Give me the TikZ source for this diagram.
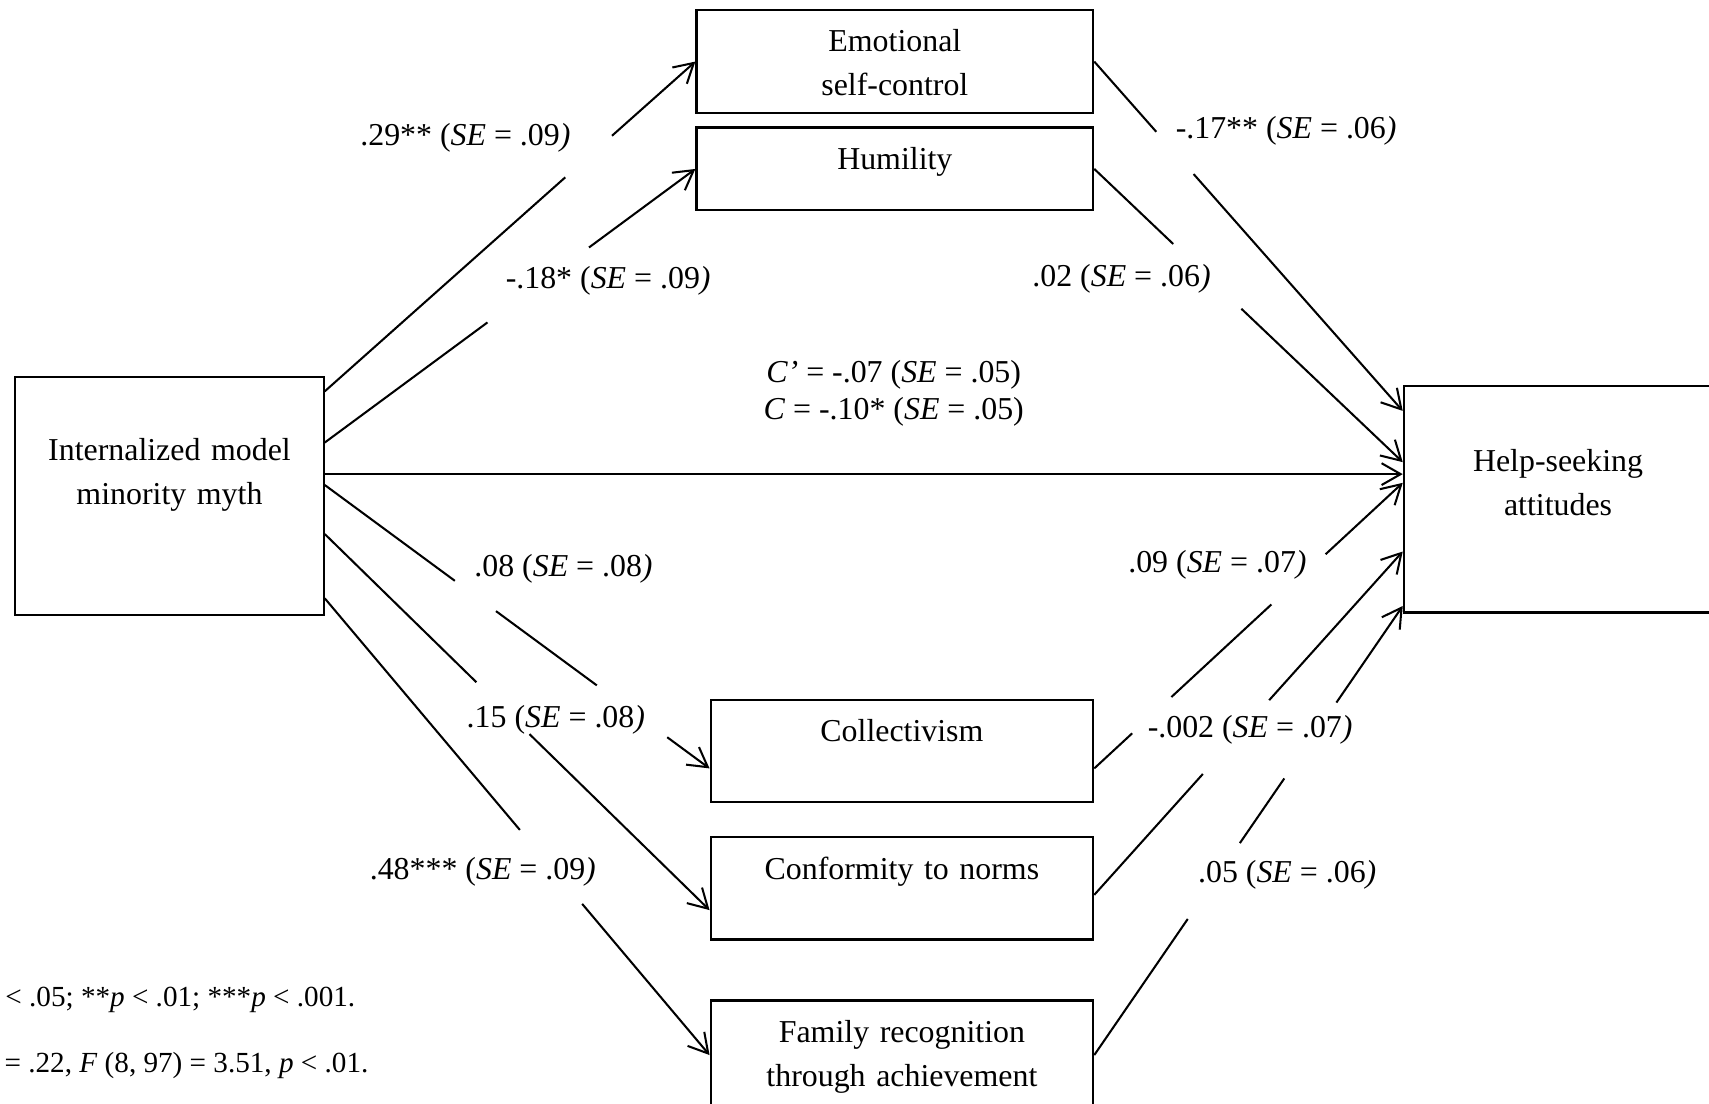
\documentclass[tikz,border=0pt]{standalone}
\usepackage{fontspec}
\setmainfont{Liberation Serif}
\usetikzlibrary{arrows.meta,calc}
\tikzset{
  box/.style={draw, line width=0.8pt, inner sep=0pt, align=center, text height=15.4pt},
  link/.style={line width=0.75pt},
  tip/.style={-{Straight Barb[length=7pt,width=8pt]}},
  coef/.style={inner sep=0pt, yshift=-1.2pt},
}
\begin{document}
\begin{tikzpicture}[font=\fontsize{11.7}{16}\selectfont]
\clip (0pt,0pt) rectangle (627.2pt,-404.8pt);

% boxes
\node[box, text width=113.2pt, text height=30.7pt, text depth=56.5pt] (imm) at (62.2pt,-182pt) {Internalized model\\minority myth};
\node[box, text width=145.6pt, text depth=22.6pt] (emo) at (328.4pt,-22.6pt) {Emotional\\self-control};
\node[box, text width=145.6pt, text depth=15pt] (hum) at (328.4pt,-62pt) {Humility};
\node[box, text width=140.4pt, text depth=22.2pt] (coll) at (331pt,-275.6pt) {Collectivism};
\node[box, text width=140.4pt, text depth=22.2pt] (conf) at (331pt,-326pt) {Conformity to norms};
\node[box, text width=140.4pt, text depth=24.6pt] (fam) at (331pt,-387.2pt) {Family recognition\\through achievement};
\node[box, text width=113.2pt, text height=31.5pt, text depth=51.7pt] (help) at (571.8pt,-183.2pt) {Help-seeking\\attitudes};

% ports
\coordinate (imm-1) at ([yshift=-5.6pt]imm.north east);
\coordinate (imm-2) at ([yshift=-24.4pt]imm.north east);
\coordinate (imm-3) at ([yshift=8pt]imm.east);
\coordinate (imm-4) at ([yshift=4pt]imm.east);
\coordinate (imm-5) at ([yshift=-14pt]imm.east);
\coordinate (imm-6) at ([yshift=6.4pt]imm.south east);
\coordinate (coll-w) at ([yshift=-6.4pt]coll.west);
\coordinate (coll-e) at ([yshift=-6.4pt]coll.east);
\coordinate (conf-w) at ([yshift=-8pt]conf.west);
\coordinate (conf-e) at ([yshift=-2.4pt]conf.east);
\coordinate (help-1) at ([yshift=32.4pt]help.west);
\coordinate (help-2) at ([yshift=13.6pt]help.west);
\coordinate (help-3) at (imm-3 -| help.west);
\coordinate (help-4) at ([yshift=6pt]help.west);
\coordinate (help-5) at ([yshift=-19.2pt]help.west);
\coordinate (help-6) at ([yshift=2.8pt]help.south west);

% a paths
\draw[link] (imm-1) -- ($(imm-1)!.649!(emo.west)$);
\draw[link,tip] ($(imm-1)!.775!(emo.west)$) -- (emo.west);
\draw[link] (imm-2) -- ($(imm-2)!.439!(hum.west)$);
\draw[link,tip] ($(imm-2)!.713!(hum.west)$) -- (hum.west);
\draw[link,tip] (imm-3) -- (help-3);
\draw[link] (imm-4) -- ($(imm-4)!.338!(coll-w)$);
\draw[link] ($(imm-4)!.445!(coll-w)$) -- ($(imm-4)!.707!(coll-w)$);
\draw[link,tip] ($(imm-4)!.890!(coll-w)$) -- (coll-w);
\draw[link] (imm-5) -- ($(imm-5)!.394!(conf-w)$);
\draw[link,tip] ($(imm-5)!.532!(conf-w)$) -- (conf-w);
\draw[link] (imm-6) -- ($(imm-6)!.507!(fam.west)$);
\draw[link,tip] ($(imm-6)!.669!(fam.west)$) -- (fam.west);

% b paths
\draw[link] (emo.east) -- ($(emo.east)!.201!(help-1)$);
\draw[link,tip] ($(emo.east)!.322!(help-1)$) -- (help-1);
\draw[link] (hum.east) -- ($(hum.east)!.256!(help-2)$);
\draw[link,tip] ($(hum.east)!.477!(help-2)$) -- (help-2);
\draw[link] (coll-e) -- ($(coll-e)!.123!(help-4)$);
\draw[link] ($(coll-e)!.25!(help-4)$) -- ($(coll-e)!.574!(help-4)$);
\draw[link,tip] ($(coll-e)!.75!(help-4)$) -- (help-4);
\draw[link] (conf-e) -- ($(conf-e)!.352!(help-5)$);
\draw[link,tip] ($(conf-e)!.567!(help-5)$) -- (help-5);
\draw[link] (fam.east) -- ($(fam.east)!.303!(help-6)$);
\draw[link] ($(fam.east)!.472!(help-6)$) -- ($(fam.east)!.616!(help-6)$);
\draw[link,tip] ($(fam.east)!.785!(help-6)$) -- (help-6);

% coefficients
\node[coef] (a-emo) at (170.8pt,-49.2pt) {.29** (\textit{SE} = .09\textit{)}};
\node[coef] (a-hum) at (223.2pt,-102pt) {-.18* (\textit{SE} = .09\textit{)}};
\node[coef] (b-emo) at (472pt,-46.8pt) {-.17** (\textit{SE} = .06\textit{)}};
\node[coef] (b-hum) at (411.6pt,-101.2pt) {.02 (\textit{SE} = .06\textit{)}};
\node[coef, align=center, font=\fontsize{11.7}{13.6}\selectfont] (direct) at (328pt,-143.2pt) {\textit{C’} = -.07 (\textit{SE} = .05)\\\textit{C} = -.10* (\textit{SE} = .05)};
\node[coef] (a-coll) at (206.8pt,-207.6pt) {.08 (\textit{SE} = .08\textit{)}};
\node[coef] (a-conf) at (204pt,-262.8pt) {.15 (\textit{SE} = .08\textit{)}};
\node[coef] (a-fam) at (177.2pt,-318.8pt) {.48*** (\textit{SE} = .09\textit{)}};
\node[coef] (b-coll) at (446.8pt,-206pt) {.09 (\textit{SE} = .07\textit{)}};
\node[coef] (b-conf) at (458.8pt,-266.8pt) {-.002 (\textit{SE} = .07\textit{)}};
\node[coef] (b-fam) at (472.4pt,-320pt) {.05 (\textit{SE} = .06\textit{)}};

% notes
\node[coef, anchor=west, font=\fontsize{10.7}{13}\selectfont] (note-p) at (1.8pt,-365.7pt) {< .05; **\textit{p} < .01; ***\textit{p} < .001.};
\node[coef, anchor=west, font=\fontsize{10.7}{13}\selectfont] (note-r) at (1.5pt,-389.7pt) {= .22, \textit{F} (8, 97) = 3.51, \textit{p} < .01.};
\end{tikzpicture}
\end{document}
